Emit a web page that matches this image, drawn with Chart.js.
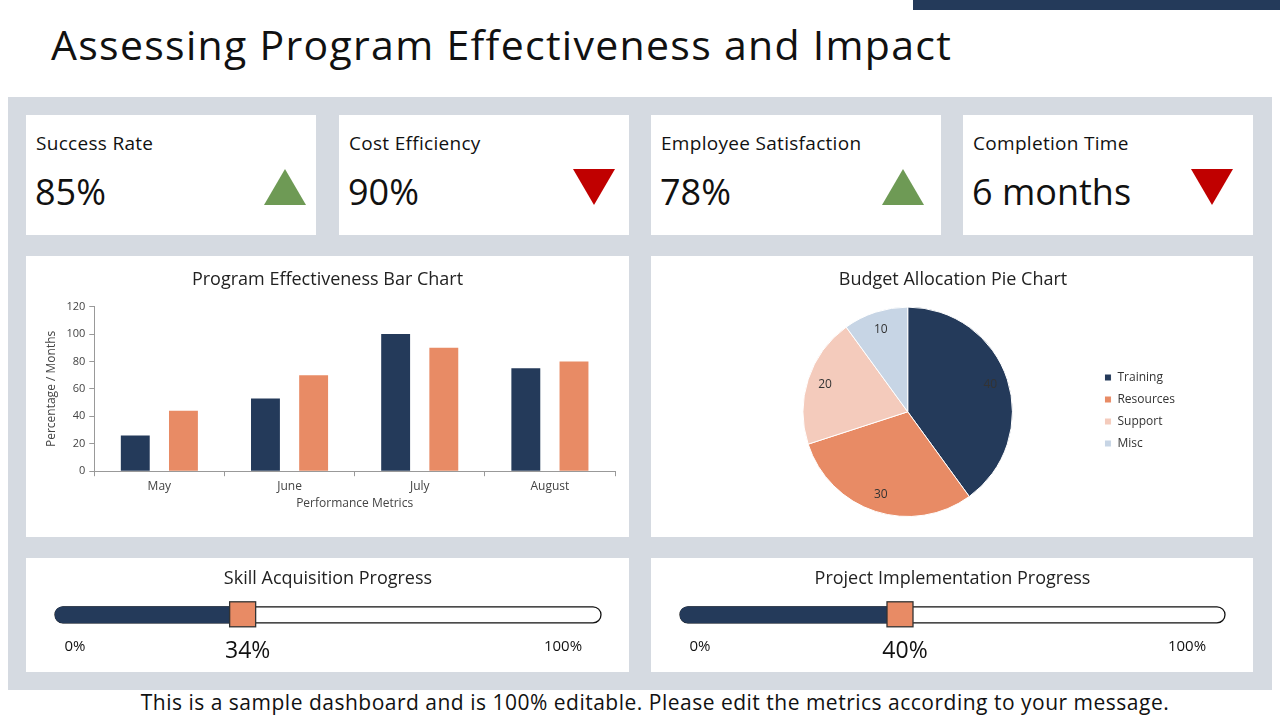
<!DOCTYPE html>
<html>
<head>
<meta charset="utf-8">
<script src="https://cdn.jsdelivr.net/npm/chart.js@4.4.0/dist/chart.umd.min.js"></script>
<style>
    body { margin: 0; width: 1280px; height: 720px; background: #fff; font-family: "Open Sans", sans-serif; position: relative; overflow: hidden; color: #111; }
    .topBar { position: absolute; left: 913px; top: 0; width: 367px; height: 10px; background: #243a5a; }
    .title { position: absolute; left: 51px; top: 16px; font-size: 41px; font-weight: 400; letter-spacing: 1.3px; }
    .panel { position: absolute; left: 8px; top: 97px; width: 1264px; height: 593px; background: #d5dae1; }
    .card { position: absolute; background: #fff; }
    .kpiLabel { position: absolute; left: 10px; top: 15px; font-size: 19px; letter-spacing: 0.3px; }
    .kpiValue { position: absolute; left: 9px; top: 52px; font-size: 36px; }
    .tri { position: absolute; width: 0; height: 0; }
    .up { border-left: 21px solid transparent; border-right: 21px solid transparent; border-bottom: 36px solid #6e9a55; top: 54px; }
    .down { border-left: 21px solid transparent; border-right: 21px solid transparent; border-top: 36px solid #c00000; top: 54px; }
    .footer { position: absolute; left: 0; width: 1310px; top: 688px; text-align: center; font-size: 21px; letter-spacing: 0.5px; }
</style>
</head>
<body>
<div class="topBar"></div>
<div class="title">Assessing Program Effectiveness and Impact</div>
<div class="panel"></div>
<div id="divKpi"></div>
<div class="card" style="left:26px;top:256px;width:603px;height:281px;"><canvas id="chartBar" width="603" height="281"></canvas></div>
<div class="card" style="left:651px;top:256px;width:602px;height:281px;"><canvas id="chartPie" width="602" height="281"></canvas></div>
<div class="card" style="left:26px;top:558px;width:603px;height:114px;"><canvas id="chartSkill" width="603" height="114"></canvas></div>
<div class="card" style="left:651px;top:558px;width:602px;height:114px;"><canvas id="chartProject" width="602" height="114"></canvas></div>
<div class="footer">This is a sample dashboard and is 100% editable. Please edit the metrics according to your message.</div>
<script>
// kpi tiles
var kpiLabels = ['Success Rate', 'Cost Efficiency', 'Employee Satisfaction', 'Completion Time'];
var kpiValues = ['85%', '90%', '78%', '6 months'];
var kpiTrends = ['up', 'down', 'up', 'down'];

// bar chart
var barMonths = ['May', 'June', 'July', 'August'];
var barSeriesA = [26, 53, 100, 75];
var barSeriesB = [44, 70, 90, 80];
var barTicks = [0, 20, 40, 60, 80, 100, 120];

// pie chart
var pieLabels = ['Training', 'Resources', 'Support', 'Misc'];
var pieValues = [40, 30, 20, 10];

// progress
var skillProgress = 34;
var projectProgress = 40;

var navy = '#243a5a', orange = '#e88b65';
var fontName = '"Open Sans", sans-serif';
Chart.defaults.font.family = fontName;
Chart.defaults.color = '#444';
Chart.defaults.animation = false;

function buildKpis() {
    var cardLeft = [26, 339, 651, 963];
    var triLeft = [238, 234, 231, 228];
    var html = '';
    for (var i = 0; i < kpiLabels.length; i++) {
        html += '<div class="card" style="left:' + cardLeft[i] + 'px;top:115px;width:290px;height:120px;">' +
            '<div class="kpiLabel">' + kpiLabels[i] + '</div>' +
            '<div class="kpiValue">' + kpiValues[i] + '</div>' +
            '<div class="tri ' + kpiTrends[i] + '" style="left:' + triLeft[i] + 'px;"></div></div>';
    }
    document.getElementById('divKpi').innerHTML = html;
}

function barChart() {
    var ctx = document.getElementById('chartBar').getContext('2d');
    new Chart(ctx, {
        type: 'bar',
        data: {
            labels: barMonths,
            datasets: [
                { data: barSeriesA, backgroundColor: navy },
                { data: barSeriesB, backgroundColor: orange }
            ]
        },
        options: {
            responsive: false,
            categoryPercentage: 0.74,
            barPercentage: 0.6,
            layout: { padding: { left: 14, right: 14, top: 0, bottom: 22 } },
            plugins: {
                legend: { display: false },
                tooltip: { enabled: false },
                title: { display: true, text: 'Program Effectiveness Bar Chart', color: '#222', font: { size: 18, weight: 'normal' }, padding: { top: 13, bottom: 16 } }
            },
            scales: {
                x: {
                    grid: { display: true, drawOnChartArea: false, offset: true, color: '#999', tickLength: 5 },
                    border: { color: '#999' },
                    ticks: { font: { size: 12 }, color: '#444', padding: 3 },
                    title: { display: true, text: 'Performance Metrics', font: { size: 12 }, color: '#444', padding: { top: 0 } }
                },
                y: {
                    min: 0, max: 120,
                    afterBuildTicks: function (scale) { scale.ticks = barTicks.map(function (v) { return { value: v }; }); },
                    grid: { display: true, drawOnChartArea: false, color: '#999', tickLength: 5 },
                    border: { color: '#999' },
                    ticks: { font: { size: 11 }, color: '#444', padding: 4 },
                    title: { display: true, text: 'Percentage / Months', font: { size: 12 }, color: '#444', padding: { bottom: 4 } }
                }
            }
        }
    });
}

var pieLabelPlugin = {
    id: 'pieLabelPlugin',
    afterLayout: function (chart) {
        // push the legend column down to sit beside the pie centre
        chart.legend.top += 24;
        chart.legend.bottom += 24;
    },
    afterDatasetsDraw: function (chart) {
        var c = chart.ctx;
        var meta = chart.getDatasetMeta(0);
        c.save();
        c.font = '12px ' + fontName;
        c.fillStyle = '#333';
        c.textAlign = 'center';
        c.textBaseline = 'middle';
        meta.data.forEach(function (arc, i) {
            var p = arc.getProps(['x', 'y', 'startAngle', 'endAngle', 'outerRadius'], true);
            var mid = (p.startAngle + p.endAngle) / 2;
            var r = p.outerRadius * 0.83;
            c.fillText(pieValues[i], p.x + Math.cos(mid) * r, p.y + Math.sin(mid) * r);
        });
        c.restore();
    }
};

function pieChart() {
    var ctx = document.getElementById('chartPie').getContext('2d');
    new Chart(ctx, {
        type: 'pie',
        data: {
            labels: pieLabels,
            datasets: [{ data: pieValues, backgroundColor: [navy, orange, '#f4cbbc', '#c7d5e5'], borderColor: '#fff', borderWidth: 1 }]
        },
        options: {
            responsive: false,
            layout: { padding: { left: 70, right: 68, top: 0, bottom: 20 } },
            plugins: {
                tooltip: { enabled: false },
                title: { display: true, text: 'Budget Allocation Pie Chart', color: '#222', font: { size: 18, weight: 'normal' }, padding: { top: 13, bottom: 16 } },
                legend: {
                    position: 'right',
                    labels: { boxWidth: 7, boxHeight: 7, padding: 10, color: '#333', font: { size: 12 } }
                }
            }
        },
        plugins: [pieLabelPlugin]
    });
}

var progressPlugin = {
    id: 'progressPlugin',
    beforeDatasetsDraw: function (chart) {
        var c = chart.ctx;
        var xs = chart.scales.x, ys = chart.scales.y;
        var y = ys.getPixelForValue(0);
        var x0 = xs.getPixelForValue(0), x1 = xs.getPixelForValue(100);
        c.save();
        c.beginPath();
        c.roundRect(x0, y - 8, x1 - x0, 16, 8);
        c.fillStyle = '#fff';
        c.fill();
        c.lineWidth = 1.3;
        c.strokeStyle = '#111';
        c.stroke();
        c.restore();
    },
    afterDatasetsDraw: function (chart) {
        var c = chart.ctx;
        var xs = chart.scales.x, ys = chart.scales.y;
        var y = ys.getPixelForValue(0);
        var val = chart.data.datasets[0].data[0];
        var xv = xs.getPixelForValue(val) + 2;
        c.save();
        c.fillStyle = orange;
        c.fillRect(xv - 13, y - 13, 26, 25);
        c.lineWidth = 1.3;
        c.strokeStyle = '#333';
        c.strokeRect(xv - 13, y - 13, 26, 25);
        c.fillStyle = '#111';
        c.textAlign = 'center';
        c.textBaseline = 'middle';
        c.font = '15px ' + fontName;
        c.fillText('0%', xs.getPixelForValue(0) + 20, y + 32);
        c.fillText('100%', xs.getPixelForValue(100) - 38, y + 32);
        c.font = '23px ' + fontName;
        c.fillText(val + '%', xv + 5, y + 37);
        c.restore();
    }
};

function progressChart(id, title, value) {
    var ctx = document.getElementById(id).getContext('2d');
    new Chart(ctx, {
        type: 'bar',
        data: {
            labels: [''],
            datasets: [{ data: [value], backgroundColor: navy, borderColor: '#111', borderWidth: 0, borderRadius: { topLeft: 8, bottomLeft: 8 }, borderSkipped: false, barThickness: 16 }]
        },
        options: {
            responsive: false,
            indexAxis: 'y',
            layout: { padding: { left: 29, right: 28, top: 0, bottom: 44 } },
            plugins: {
                legend: { display: false },
                tooltip: { enabled: false },
                title: { display: true, text: title, color: '#222', font: { size: 18, weight: 'normal' }, padding: { top: 10, bottom: 12 } }
            },
            scales: {
                x: { min: 0, max: 100, display: false },
                y: { display: false }
            }
        },
        plugins: [progressPlugin]
    });
}

buildKpis();
barChart();
pieChart();
progressChart('chartSkill', 'Skill Acquisition Progress', skillProgress);
progressChart('chartProject', 'Project Implementation Progress', projectProgress);
</script>
</body>
</html>
